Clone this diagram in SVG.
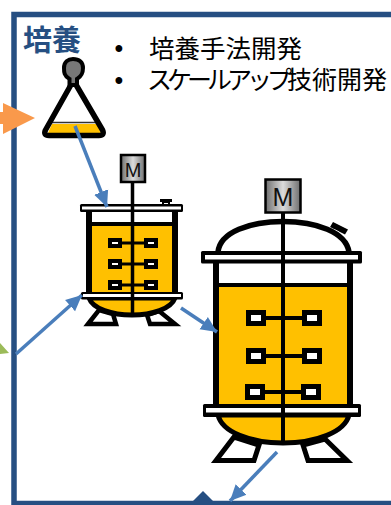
<svg xmlns="http://www.w3.org/2000/svg" width="391" height="505" viewBox="0 0 391 505">
<style>
.k{stroke:#000;fill:none}
.fl{fill:#000;stroke:none}
.wh{fill:#fff;stroke:none}
.leg{fill:#fff;stroke:#000;stroke-linejoin:miter}
.bl{stroke:#4a7ebb;stroke-width:3.500;fill:none;marker-end:url(#ah)}
.jp{font-family:"Noto Sans CJK JP","Noto Sans",sans-serif}
.dot{font-family:"Liberation Sans",Arial,sans-serif;font-size:25px}
.m{font-family:"Liberation Sans",Arial,sans-serif;fill:#111;text-anchor:middle}
.imp{fill:#fff;stroke:#000}
</style>
<defs>
<marker id="ah" markerUnits="userSpaceOnUse" markerWidth="18" markerHeight="18" refX="16" refY="9" orient="auto">
<path d="M0 1.500L16 9L0 16.500Z" fill="#4a7ebb"/>
</marker>
<linearGradient id="mg" x1="0" x2="1" y1="0" y2="0">
<stop offset="0" stop-color="#6e6e6e"/><stop offset=".5" stop-color="#dcdcdc"/><stop offset="1" stop-color="#6e6e6e"/>
</linearGradient>
</defs>

<g id="frame">
<rect x="14" y="14.500" width="420" height="489" fill="none" stroke="#264f82" stroke-width="5.500"/>
<path d="M191 503L203 491L215 503Z" fill="#264f82"/>
<text x="23" y="51" class="jp" font-size="29" font-weight="700" fill="#264f82">培養</text>
</g>

<g id="bullets" fill="#000">
<text x="114.500" y="57" class="dot">•</text>
<text x="114.500" y="89" class="dot">•</text>
<text x="149" y="58" class="jp" font-size="25.500">培養手法開発</text>
<text x="147" y="89" class="jp" font-size="25"><tspan letter-spacing="-5">スケールアップ</tspan><tspan x="287">技術開発</tspan></text>
</g>

<g id="flask">
<path d="M72 83L45.500 130Q43 135.500 49 135.500L99 135.500Q105 135.500 102.500 130L75 83Z" fill="#fff"/>
<path d="M52 124H97L101 133H48Z" fill="#ffc000"/>
<path d="M52 122.500H97" stroke="#333" stroke-width="1.500"/>
<path class="k" stroke-width="5.500" stroke-linejoin="round" d="M72 83L45.500 130Q43 135.500 49 135.500L99 135.500Q105 135.500 102.500 130L75 83"/>
<path d="M69.500 85V79C64 76 64 72 64 68C64 62 68 59 73 59C79 59 83 62 83 68C83 73 82 76 77 79V85Z" fill="#777" stroke="#000" stroke-width="4"/>
</g>

<g id="tank-small">
<rect x="121" y="155" width="24" height="27" fill="url(#mg)" stroke="#000" stroke-width="2.500"/>
<text x="133" y="177" class="m" font-size="20">M</text>
<rect x="160" y="199" width="12" height="3" class="fl"/>
<path d="M163 202H169V205H163Z" fill="#fff" stroke="#000" stroke-width="2"/>
<path class="leg" stroke-width="4.500" d="M88 324L99 310L113 314L116 324Z"/>
<path class="leg" stroke-width="4.500" d="M147 315L159 311L175 324L150 324Z"/>
<path d="M89 298C93 309 112 315 132 315C152 315 171 309 175 298Z" fill="#ffc000" stroke="#000" stroke-width="5"/>
<rect x="89" y="224" width="86" height="71" fill="#ffc000"/>
<path class="k" stroke-width="6" d="M89 207V295M175 207V295"/>
<path class="k" stroke-width="4" d="M91 224H173"/>
<rect x="80" y="204" width="103" height="8" rx="1.500" class="fl"/>
<rect x="82" y="206.500" width="99" height="3" class="wh"/>
<rect x="81" y="292" width="102" height="7.500" rx="1.500" class="fl"/>
<rect x="83" y="294" width="98" height="3" class="wh"/>
<path class="k" stroke-width="3.500" d="M132.500 183V316"/>
<path class="k" stroke-width="3" d="M118 243H146M118 264H146M118 285H146"/>
<g class="imp" stroke-width="4">
<rect x="110" y="240" width="10" height="6"/><rect x="146" y="240" width="10" height="6"/>
<rect x="110" y="261" width="10" height="6"/><rect x="146" y="261" width="10" height="6"/>
<rect x="110" y="282" width="10" height="6"/><rect x="146" y="282" width="10" height="6"/>
</g>
</g>

<g id="tank-large">
<rect x="265.500" y="179.500" width="35" height="33" fill="url(#mg)" stroke="#000" stroke-width="2.500"/>
<text x="283" y="206" class="m" font-size="25">M</text>
<path d="M333 222L348 229.500L345 234.500L330 227Z" fill="#000"/>
<path d="M334 229L339 231.500L337 233.500Z" fill="#fff"/>
<path class="k" stroke-width="5.500" d="M218 252C220 232 250 221.500 283 221.500C316 221.500 346 232 349 252"/>
<path class="leg" stroke-width="5" d="M216 460.500L234 437L259 445L254 460.500Z"/>
<path class="leg" stroke-width="5" d="M303 445L325 439L347 460.500L308 460.500Z"/>
<path d="M218 415C222 432 250 443 283 443C316 443 345 432 349 415Z" fill="#ffc000" stroke="#000" stroke-width="5"/>
<rect x="216" y="285" width="134" height="122" fill="#ffc000"/>
<path class="k" stroke-width="6" d="M216 262V407M350 262V407"/>
<path class="k" stroke-width="4" d="M218 285H348"/>
<rect x="201" y="251" width="161" height="12.500" rx="1.500" class="fl"/>
<rect x="205" y="255" width="153" height="4.500" class="wh"/>
<rect x="203" y="404" width="158" height="13" rx="1.500" class="fl"/>
<rect x="206" y="408" width="152" height="4.500" class="wh"/>
<path class="k" stroke-width="4" d="M283 213V444"/>
<path class="k" stroke-width="4" d="M262 318H304M262 356H304M262 392H304"/>
<g class="imp" stroke-width="5">
<rect x="248.500" y="312.500" width="15" height="11"/><rect x="304.500" y="312.500" width="15" height="11"/>
<rect x="248.500" y="350.500" width="15" height="11"/><rect x="304.500" y="350.500" width="15" height="11"/>
<rect x="247.500" y="386.500" width="15" height="11"/><rect x="303.500" y="386.500" width="15" height="11"/>
</g>
</g>

<g id="connectors">
<path d="M0 112H3V103L35 118L3 134V124H0Z" fill="#f9994b"/>
<path d="M0 343L9 353L0 354Z" fill="#9bbb59"/>
<path class="bl" d="M75 126L107 207"/>
<path class="bl" d="M16 354L82 295"/>
<path class="bl" d="M181 308L217 332"/>
<path class="bl" d="M277 452L230 501"/>
</g>
</svg>
